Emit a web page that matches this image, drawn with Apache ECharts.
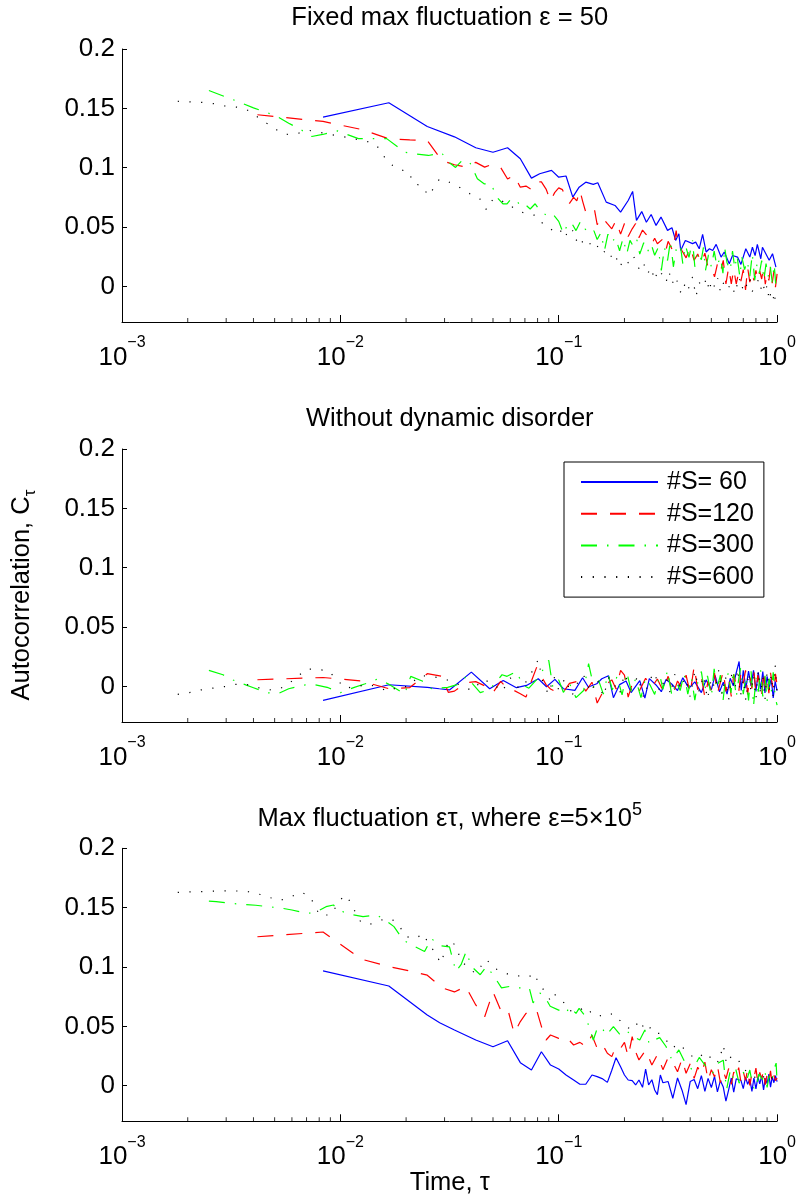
<!DOCTYPE html>
<html>
<head>
<meta charset="utf-8">
<script src="https://cdn.jsdelivr.net/npm/echarts@6/dist/echarts.min.js"></script>
<style>
html,body{margin:0;padding:0;background:#fff;}
#chart{width:799px;height:1201px;}
</style>
</head>
<body>
<div id="chart"></div>
<script>
// ---------- DATA ----------
const seriesNames = ['#S= 60', '#S=120', '#S=300', '#S=600'];
const panelTitles = ['Fixed max fluctuation \u03b5 = 50', 'Without dynamic disorder', '{a|Max fluctuation \u03b5\u03c4, where \u03b5=5\u00d710}{s|5}'];
const xAxisTitle = 'Time, \u03c4';
const yAxisTitle = '{a|Autocorrelation, C}{s|\u03c4}';
const minorTickValues = [0.002,0.003,0.004,0.005,0.006,0.007,0.008,0.009,0.02,0.03,0.04,0.05,0.06,0.07,0.08,0.09,0.2,0.3,0.4,0.5,0.6,0.7,0.8,0.9];

// Panel 1: Fixed max fluctuation
const p1_S60 = [[0.00833,0.1426],[0.01667,0.1547],[0.025,0.1347],[0.0333,0.126],[0.0417,0.1168],[0.05,0.113],[0.0583,0.1168],[0.0667,0.1075],[0.075,0.0912],[0.0818,0.0949],[0.0927,0.0977],[0.1,0.092],[0.108,0.093],[0.116,0.0752],[0.124,0.0836],[0.133,0.0878],[0.144,0.0859],[0.151,0.0873],[0.165,0.071],[0.181,0.0682],[0.192,0.0626],[0.208,0.0724],[0.218,0.08],[0.227,0.0556],[0.24,0.063],[0.252,0.054],[0.265,0.0606],[0.279,0.0514],[0.294,0.0584],[0.315,0.0472],[0.33,0.0494],[0.343,0.0387],[0.355,0.0443],[0.362,0.0303],[0.38,0.0387],[0.41,0.036],[0.424,0.0373],[0.44,0.0317],[0.456,0.0438],[0.473,0.029],[0.49,0.0317],[0.507,0.0303],[0.526,0.0354],[0.554,0.0247],[0.573,0.029],[0.604,0.019],[0.625,0.026],[0.659,0.0247],[0.683,0.0185],[0.719,0.0317],[0.75,0.0247],[0.771,0.033],[0.793,0.026],[0.812,0.0354],[0.842,0.0233],[0.857,0.033],[0.888,0.0275],[0.92,0.022],[0.953,0.0275],[0.988,0.0163]];
const p1_S120 = [[0.00417,0.1446],[0.00833,0.139],[0.0125,0.1322],[0.0167,0.1243],[0.0208,0.1235],[0.025,0.1229],[0.0292,0.106],[0.0333,0.1025],[0.0375,0.1005],[0.0417,0.1045],[0.0458,0.1005],[0.05,0.103],[0.0542,0.1002],[0.0583,0.0905],[0.0625,0.0935],[0.0667,0.0836],[0.0708,0.0845],[0.075,0.0815],[0.0792,0.088],[0.0833,0.088],[0.0875,0.082],[0.0917,0.072],[0.0958,0.079],[0.1,0.083],[0.104,0.0815],[0.108,0.074],[0.112,0.07],[0.117,0.075],[0.121,0.072],[0.125,0.081],[0.129,0.071],[0.133,0.0626],[0.138,0.06],[0.142,0.0626],[0.146,0.064],[0.15,0.052],[0.158,0.0584],[0.167,0.0528],[0.175,0.0485],[0.183,0.0555],[0.192,0.044],[0.2,0.053],[0.208,0.042],[0.217,0.0485],[0.225,0.053],[0.233,0.041],[0.242,0.0475],[0.25,0.0443],[0.258,0.041],[0.267,0.036],[0.275,0.0405],[0.283,0.0359],[0.3,0.04],[0.31,0.031],[0.317,0.038],[0.333,0.03],[0.345,0.047],[0.35,0.0382],[0.367,0.03],[0.383,0.024],[0.4,0.033],[0.417,0.022],[0.433,0.0272],[0.45,0.02],[0.467,0.028],[0.483,0.016],[0.5,0.0165],[0.517,0.008],[0.533,0.019],[0.55,0.012],[0.567,0.022],[0.583,0.002],[0.6,0.016],[0.617,0.0022],[0.633,0.0145],[0.65,0.002],[0.667,0.012],[0.683,0.0045],[0.7,0.0142],[0.717,-0.003],[0.733,0.016],[0.75,0.0035],[0.767,0.0118],[0.783,0.005],[0.8,0.0135],[0.817,0.0052],[0.833,0.0128],[0.85,0.0062],[0.867,0.0165],[0.883,0.0018],[0.9,0.0112],[0.917,0.005],[0.933,0.016],[0.95,0.0028],[0.967,0.013],[0.983,-0.0006],[1.0,0.0105]];
const p1_S300 = [[0.0025,0.165],[0.0033,0.1566],[0.004,0.1504],[0.0047,0.1459],[0.0052,0.1426],[0.0058,0.1375],[0.0066,0.132],[0.0074,0.1263],[0.0083,0.128],[0.0097,0.131],[0.0121,0.1245],[0.0142,0.1245],[0.0163,0.1245],[0.0197,0.1131],[0.0219,0.1117],[0.0253,0.1103],[0.0291,0.1125],[0.0312,0.105],[0.0337,0.1002],[0.036,0.1058],[0.039,0.1052],[0.0424,0.0907],[0.0455,0.0864],[0.049,0.0864],[0.052,0.0753],[0.0555,0.0696],[0.058,0.0696],[0.0605,0.0738],[0.064,0.0724],[0.0675,0.0668],[0.071,0.0682],[0.074,0.0652],[0.078,0.0696],[0.082,0.064],[0.086,0.0612],[0.09,0.058],[0.095,0.0598],[0.1,0.0548],[0.105,0.0445],[0.11,0.0525],[0.114,0.054],[0.12,0.047],[0.126,0.055],[0.132,0.0485],[0.138,0.0445],[0.145,0.0468],[0.15,0.0395],[0.156,0.0452],[0.162,0.0302],[0.168,0.044],[0.175,0.0372],[0.182,0.0412],[0.19,0.03],[0.197,0.0405],[0.205,0.0275],[0.212,0.0388],[0.22,0.0335],[0.228,0.0392],[0.235,0.0272],[0.245,0.0368],[0.255,0.029],[0.265,0.0358],[0.275,0.0262],[0.285,0.0325],[0.295,0.0135],[0.305,0.0328],[0.315,0.0218],[0.325,0.0385],[0.335,0.0165],[0.345,0.031],[0.36,0.0355],[0.37,0.0192],[0.38,0.0345],[0.395,0.0245],[0.41,0.0388],[0.42,0.0165],[0.435,0.0292],[0.45,0.0225],[0.46,0.0328],[0.47,0.0135],[0.485,0.0265],[0.5,0.0165],[0.515,0.0298],[0.53,0.0172],[0.55,0.0245],[0.565,0.0112],[0.575,0.0328],[0.59,0.0198],[0.61,0.0135],[0.625,0.0298],[0.64,0.0152],[0.655,0.0262],[0.675,0.0082],[0.69,0.0245],[0.71,0.0142],[0.73,0.0215],[0.75,0.0085],[0.77,0.0275],[0.79,0.0052],[0.81,0.0195],[0.83,0.0112],[0.85,0.0218],[0.87,0.0055],[0.89,0.0192],[0.91,0.0082],[0.93,0.0172],[0.95,0.0035],[0.97,0.0185],[0.985,0.0025],[1.0,0.0115]];
const p1_S600 = [[0.0018,0.156],[0.00205,0.1555],[0.00232,0.155],[0.00262,0.154],[0.00296,0.152],[0.00335,0.151],[0.00372,0.149],[0.00414,0.1432],[0.0046,0.1375],[0.0051,0.132],[0.00563,0.128],[0.00641,0.129],[0.0072,0.1314],[0.0081,0.1297],[0.00922,0.1277],[0.0104,0.126],[0.0118,0.124],[0.0132,0.1223],[0.0147,0.1186],[0.0157,0.1102],[0.0171,0.1027],[0.0184,0.099],[0.0207,0.096],[0.0215,0.0869],[0.0237,0.0847],[0.0253,0.0763],[0.0266,0.082],[0.0284,0.0904],[0.0301,0.0893],[0.0334,0.0859],[0.0366,0.0814],[0.0392,0.078],[0.0435,0.0738],[0.0467,0.0645],[0.05,0.0735],[0.0547,0.0724],[0.06,0.0668],[0.0621,0.0668],[0.068,0.0625],[0.0735,0.0605],[0.0789,0.0598],[0.0846,0.0528],[0.0937,0.0472],[0.1,0.0443],[0.105,0.0495],[0.11,0.0412],[0.116,0.0471],[0.12,0.0385],[0.124,0.0425],[0.13,0.0355],[0.137,0.0382],[0.143,0.0318],[0.15,0.0342],[0.157,0.0275],[0.165,0.0303],[0.172,0.0245],[0.18,0.0285],[0.19,0.0163],[0.2,0.0232],[0.21,0.0191],[0.22,0.0255],[0.235,0.0135],[0.245,0.0192],[0.255,0.0105],[0.265,0.0158],[0.275,0.0051],[0.285,0.0142],[0.3,0.0093],[0.31,0.0035],[0.32,0.0125],[0.33,0.0022],[0.345,0.0085],[0.355,-0.0035],[0.37,-0.0062],[0.38,0.0045],[0.395,-0.0015],[0.41,0.0079],[0.425,-0.0085],[0.44,0.0032],[0.46,-0.0006],[0.475,0.0072],[0.49,-0.0042],[0.5,0.0051],[0.52,-0.0012],[0.535,0.0068],[0.55,-0.0048],[0.57,0.0035],[0.59,-0.0022],[0.62,0.0022],[0.64,-0.0065],[0.67,0.0079],[0.69,-0.0025],[0.71,0.0045],[0.73,-0.0006],[0.75,0.0062],[0.77,-0.0042],[0.8,0.0025],[0.82,0.0051],[0.84,-0.0028],[0.86,0.0035],[0.88,-0.0055],[0.9,0.0012],[0.92,-0.0118],[0.94,-0.0035],[0.96,-0.0082],[0.97,-0.0146],[0.985,-0.0062],[1.0,-0.0105]];

// Panel 2: Without dynamic disorder
const p2_S60 = [[0.00833,-0.0118],[0.0167,0.0014],[0.025,-0.0008],[0.0284,-0.002],[0.0316,-0.003],[0.0398,0.012],[0.0483,-0.002],[0.0557,0.005],[0.064,-0.0011],[0.0712,0.0008],[0.0806,0.0064],[0.0879,-0.0003],[0.0961,0.0059],[0.105,-0.002],[0.1186,-0.0034],[0.1286,0.0073],[0.1366,-0.0005],[0.1493,0.0022],[0.1575,0.0064],[0.169,0.009],[0.178,-0.0095],[0.19,0.0015],[0.2034,0.0045],[0.2145,-0.0052],[0.235,0.0048],[0.248,-0.0098],[0.26,0.0065],[0.279,0.0012],[0.295,-0.0045],[0.31,0.0058],[0.33,0.0018],[0.35,-0.0035],[0.37,0.0072],[0.395,-0.0015],[0.42,0.0038],[0.45,-0.0052],[0.473,0.0055],[0.5,-0.0028],[0.52,0.0092],[0.545,-0.0045],[0.567,0.0035],[0.59,-0.0065],[0.61,0.0068],[0.63,0.0005],[0.65,0.0115],[0.67,0.021],[0.685,-0.0035],[0.7,0.0135],[0.72,-0.0015],[0.74,0.0128],[0.76,0.0005],[0.78,0.0135],[0.8,-0.0042],[0.82,0.0118],[0.84,-0.0025],[0.86,0.0125],[0.88,-0.0055],[0.9,0.0085],[0.92,-0.0012],[0.94,0.0065],[0.96,-0.0098],[0.98,0.0042],[1.0,-0.0035]];
const p2_S120 = [[0.00417,0.0056],[0.00833,0.0075],[0.0125,0.0045],[0.0167,-0.002],[0.0208,-0.001],[0.025,0.0107],[0.0292,0.0085],[0.0312,-0.005],[0.0333,-0.004],[0.0375,0.003],[0.0417,0.004],[0.0458,0.0005],[0.05,-0.0053],[0.0542,0.0042],[0.0583,-0.002],[0.0625,-0.0035],[0.0667,-0.0062],[0.0708,-0.009],[0.075,0.0045],[0.0792,0.016],[0.0833,0.0085],[0.0875,0.0015],[0.0917,-0.0022],[0.0958,-0.004],[0.1,-0.0055],[0.104,-0.006],[0.112,0.0025],[0.125,0.0048],[0.133,-0.004],[0.142,0.0035],[0.15,-0.014],[0.158,-0.006],[0.167,0.0025],[0.175,0.0055],[0.183,-0.0022],[0.192,0.0135],[0.2,0.0095],[0.208,-0.009],[0.217,0.002],[0.233,-0.0045],[0.25,0.0068],[0.267,-0.0005],[0.283,0.0062],[0.3,-0.0035],[0.317,0.0085],[0.333,-0.0072],[0.35,0.0045],[0.367,-0.0015],[0.383,0.0095],[0.4,-0.0058],[0.417,0.0169],[0.433,-0.0028],[0.45,0.0078],[0.467,-0.0092],[0.483,0.0045],[0.5,-0.0035],[0.517,0.0112],[0.533,-0.0062],[0.55,0.0035],[0.567,0.0128],[0.583,-0.0042],[0.6,0.0072],[0.617,-0.0085],[0.633,0.0102],[0.65,0.0012],[0.667,-0.0052],[0.683,0.0118],[0.7,0.0025],[0.717,0.0135],[0.733,-0.0068],[0.75,0.0085],[0.767,-0.0018],[0.783,0.0125],[0.8,-0.0045],[0.817,0.0095],[0.833,0.0015],[0.85,-0.0075],[0.867,0.0132],[0.883,-0.0012],[0.9,0.0078],[0.917,-0.0058],[0.933,0.0115],[0.95,0.0022],[0.967,-0.0038],[0.983,0.0105],[1.0,0.0012]];
const p2_S300 = [[0.0025,0.0135],[0.0029,0.0098],[0.0032,0.0056],[0.0036,0.002],[0.004,-0.0011],[0.0046,-0.0053],[0.0052,-0.006],[0.0058,-0.002],[0.0068,0.0011],[0.0075,0.0017],[0.0088,-0.0011],[0.01,-0.0053],[0.0115,-0.001],[0.013,0.0022],[0.0148,0.0062],[0.0166,0.002],[0.018,-0.002],[0.0197,-0.0064],[0.021,0.0084],[0.0237,0.0045],[0.0262,-0.002],[0.031,-0.0008],[0.035,0.002],[0.0377,0.0084],[0.0437,-0.0053],[0.0483,-0.0025],[0.055,0.0098],[0.058,0.0085],[0.064,0.0126],[0.0685,0.001],[0.073,-0.0015],[0.08,0.0065],[0.09,0.0219],[0.094,-0.001],[0.1,0.0055],[0.105,-0.005],[0.112,0.0025],[0.12,-0.0095],[0.13,-0.0035],[0.137,0.0191],[0.145,-0.0012],[0.152,0.0055],[0.16,-0.0065],[0.168,0.0105],[0.176,-0.0028],[0.185,0.0085],[0.195,-0.0072],[0.205,0.0118],[0.215,-0.0042],[0.225,0.0065],[0.238,-0.0095],[0.25,0.0072],[0.262,0.0012],[0.275,-0.0068],[0.29,0.0098],[0.3,-0.0025],[0.315,0.0135],[0.33,-0.0082],[0.345,0.0042],[0.36,-0.0035],[0.375,0.0108],[0.39,-0.0065],[0.405,0.0075],[0.42,-0.0115],[0.435,0.0052],[0.45,0.0125],[0.465,-0.0048],[0.48,0.0088],[0.5,-0.0085],[0.515,0.0148],[0.53,-0.0022],[0.55,0.0095],[0.565,-0.0128],[0.58,0.0062],[0.6,0.0115],[0.615,-0.0055],[0.63,0.0135],[0.65,-0.0092],[0.665,0.0045],[0.68,0.0155],[0.7,-0.0065],[0.72,0.0082],[0.74,-0.0118],[0.76,0.0128],[0.78,-0.0168],[0.8,0.0072],[0.82,-0.0045],[0.84,0.0142],[0.86,-0.0085],[0.88,0.0098],[0.9,-0.0125],[0.92,0.0065],[0.94,-0.0052],[0.96,0.0118],[0.98,-0.0095],[1.0,-0.0157]];
const p2_S600 = [[0.0018,-0.0067],[0.0021,-0.0048],[0.0023,-0.003],[0.0026,-0.0015],[0.003,0],[0.0033,0.0017],[0.0037,0.0017],[0.0041,-0.0005],[0.0046,-0.003],[0.0052,-0.0025],[0.0057,0.0011],[0.007,0.0146],[0.0076,0.0146],[0.0088,0.0132],[0.0096,0.0062],[0.0105,-0.0015],[0.012,0.0],[0.0134,0.0017],[0.0148,-0.0005],[0.0166,-0.0042],[0.0183,-0.0005],[0.0207,0.0],[0.0227,0.0084],[0.0253,0.009],[0.0301,0.0062],[0.035,0.0015],[0.04,-0.0035],[0.045,0.0058],[0.05,0.0025],[0.055,-0.0045],[0.06,0.0072],[0.066,-0.002],[0.072,0.0052],[0.0806,0.0225],[0.085,0.0012],[0.09,-0.0065],[0.095,0.0085],[0.1,-0.003],[0.107,0.0068],[0.115,-0.0078],[0.123,0.0045],[0.13,0.0095],[0.14,-0.0052],[0.15,0.0062],[0.16,-0.0085],[0.17,0.0078],[0.18,0.0015],[0.19,-0.0065],[0.2,0.0105],[0.215,-0.0025],[0.23,0.0085],[0.245,-0.0095],[0.26,0.0052],[0.275,0.0118],[0.29,-0.0045],[0.31,0.0085],[0.325,-0.0068],[0.34,0.0102],[0.36,-0.0018],[0.38,0.0075],[0.4,-0.0088],[0.42,0.0128],[0.44,-0.0045],[0.46,0.0092],[0.48,-0.0108],[0.5,0.0068],[0.52,-0.0025],[0.54,0.0135],[0.56,-0.0072],[0.58,0.0088],[0.6,-0.0115],[0.62,0.0105],[0.64,-0.0035],[0.66,0.0148],[0.68,-0.0082],[0.7,0.0062],[0.72,-0.0122],[0.74,0.0118],[0.76,-0.0048],[0.78,0.0095],[0.8,-0.0105],[0.82,0.0135],[0.84,-0.0068],[0.86,0.0082],[0.88,-0.0115],[0.9,0.0125],[0.92,-0.0032],[0.94,0.0098],[0.96,-0.0088],[0.98,0.0182],[1.0,-0.0055]];

// Panel 3: Max fluctuation proportional to tau
const p3_S60 = [[0.00833,0.0968],[0.01667,0.084],[0.025,0.0595],[0.0285,0.053],[0.0333,0.0469],[0.0417,0.0385],[0.05,0.0328],[0.0583,0.0379],[0.0667,0.0194],[0.075,0.0132],[0.0833,0.0286],[0.0917,0.0174],[0.1,0.014],[0.108,0.009],[0.117,0.0048],[0.125,0.0012],[0.133,0.0012],[0.142,0.009],[0.15,0.0076],[0.158,0.006],[0.167,0.0028],[0.175,0.013],[0.183,0.0236],[0.192,0.0159],[0.2,0.009],[0.208,0.0048],[0.217,0.0042],[0.225,0.0006],[0.233,0.0048],[0.242,-0.0014],[0.25,0.014],[0.258,0.0006],[0.267,0.005],[0.275,-0.0036],[0.283,-0.0075],[0.292,0.009],[0.3,0.0025],[0.317,0.0035],[0.333,-0.0106],[0.35,0.0065],[0.367,-0.0038],[0.383,-0.016],[0.4,0.0035],[0.417,0.0052],[0.433,-0.0025],[0.45,0.0085],[0.467,-0.0048],[0.483,0.0062],[0.5,-0.0015],[0.517,0.0078],[0.533,-0.0052],[0.55,0.0042],[0.567,-0.0012],[0.583,-0.013],[0.6,-0.0035],[0.617,0.0065],[0.633,-0.0055],[0.65,0.0058],[0.667,0.005],[0.683,0.0045],[0.7,-0.0025],[0.717,0.0072],[0.733,0.0012],[0.75,0.0055],[0.767,-0.0048],[0.783,0.0065],[0.8,-0.0028],[0.817,0.0075],[0.833,0.0015],[0.85,0.0082],[0.867,-0.0035],[0.883,0.0062],[0.9,0.0018],[0.917,0.0098],[0.933,-0.0012],[0.95,0.0075],[0.967,0.0025],[0.983,0.0085],[1.0,0.0035]];
const p3_S120 = [[0.00417,0.1255],[0.00833,0.1295],[0.0125,0.1066],[0.0167,0.1003],[0.0208,0.0967],[0.025,0.0931],[0.0292,0.0825],[0.0333,0.079],[0.0375,0.0835],[0.0417,0.068],[0.0458,0.0581],[0.05,0.079],[0.0542,0.0637],[0.0583,0.0651],[0.0625,0.0441],[0.0667,0.054],[0.0708,0.0609],[0.075,0.0609],[0.0792,0.0637],[0.0833,0.05],[0.0875,0.0385],[0.0917,0.0427],[0.1,0.0399],[0.108,0.0412],[0.117,0.0343],[0.125,0.0365],[0.133,0.0329],[0.142,0.0425],[0.15,0.0315],[0.158,0.0352],[0.167,0.0273],[0.175,0.0245],[0.183,0.0335],[0.192,0.0315],[0.2,0.0365],[0.208,0.0245],[0.217,0.0413],[0.225,0.0285],[0.233,0.0217],[0.25,0.0298],[0.267,0.0175],[0.283,0.0262],[0.3,0.0135],[0.317,0.0238],[0.333,0.0195],[0.35,0.0118],[0.367,0.0225],[0.383,0.0105],[0.4,0.0185],[0.417,0.0062],[0.433,0.0155],[0.45,0.0098],[0.467,0.0198],[0.483,0.0042],[0.5,0.0135],[0.517,0.0075],[0.533,0.0168],[0.55,0.0025],[0.567,0.0122],[0.583,0.0058],[0.6,0.0145],[0.617,0.0012],[0.633,0.0115],[0.65,0.0065],[0.667,0.0152],[0.683,0.0028],[0.7,0.0118],[0.717,0.0045],[0.733,0.0138],[0.75,0.0002],[0.767,0.0105],[0.783,0.0062],[0.8,0.0148],[0.817,0.0018],[0.833,0.0112],[0.85,0.0055],[0.867,0.0135],[0.883,0.0008],[0.9,0.0098],[0.917,0.0035],[0.933,0.0125],[0.95,0.0015],[0.967,0.0088],[0.983,0.0042],[1.0,0.0065]];
const p3_S300 = [[0.0025,0.1555],[0.0027,0.155],[0.0032,0.1535],[0.0036,0.1528],[0.0041,0.152],[0.0047,0.1508],[0.0054,0.1495],[0.006,0.148],[0.0071,0.1452],[0.0077,0.146],[0.0086,0.1508],[0.0093,0.1522],[0.0098,0.148],[0.011,0.1445],[0.0127,0.1424],[0.0147,0.1438],[0.016,0.1396],[0.0176,0.134],[0.0194,0.1227],[0.0215,0.118],[0.0243,0.113],[0.0261,0.124],[0.0285,0.118],[0.0316,0.117],[0.0338,0.0963],[0.0357,0.1019],[0.0377,0.1131],[0.0398,0.1005],[0.0437,0.0935],[0.0467,0.1005],[0.05,0.0935],[0.0547,0.0824],[0.06,0.0837],[0.064,0.0824],[0.0733,0.0823],[0.0763,0.0697],[0.082,0.0781],[0.0866,0.0745],[0.0914,0.0669],[0.1,0.0637],[0.108,0.0609],[0.112,0.0665],[0.12,0.0609],[0.124,0.0651],[0.133,0.0581],[0.144,0.0385],[0.151,0.0497],[0.16,0.0469],[0.165,0.0425],[0.178,0.0498],[0.19,0.0435],[0.203,0.0469],[0.218,0.0415],[0.235,0.0385],[0.248,0.0469],[0.26,0.0352],[0.271,0.0382],[0.29,0.0405],[0.31,0.033],[0.33,0.0217],[0.355,0.0301],[0.38,0.0189],[0.41,0.0133],[0.44,0.0238],[0.473,0.0161],[0.507,0.0105],[0.53,0.0185],[0.567,0.0215],[0.587,-0.0034],[0.61,0.0125],[0.625,0.0062],[0.645,0.0148],[0.67,0.0021],[0.7,0.0115],[0.725,0.0045],[0.75,0.0132],[0.775,-0.0012],[0.8,-0.0034],[0.825,0.0098],[0.857,0.0052],[0.88,0.0125],[0.9,-0.0015],[0.92,0.0085],[0.945,0.0032],[0.97,0.0145],[0.99,0.019],[1.0,0.0025]];
const p3_S600 = [[0.0018,0.1628],[0.0021,0.1634],[0.0024,0.1636],[0.0027,0.164],[0.003,0.1642],[0.0034,0.164],[0.0038,0.1634],[0.0043,0.1611],[0.0048,0.1583],[0.0053,0.1561],[0.0059,0.1589],[0.0066,0.163],[0.0072,0.16],[0.0077,0.151],[0.008,0.1438],[0.009,0.1438],[0.0104,0.1606],[0.011,0.156],[0.0116,0.1477],[0.0124,0.138],[0.0136,0.1358],[0.0154,0.1396],[0.0172,0.1405],[0.0188,0.1335],[0.0198,0.1259],[0.0219,0.1238],[0.024,0.128],[0.0253,0.1197],[0.0272,0.1121],[0.0288,0.1031],[0.031,0.1197],[0.0316,0.1226],[0.0338,0.118],[0.0357,0.105],[0.0415,0.0946],[0.0467,0.1065],[0.05,0.0995],[0.06,0.0931],[0.0733,0.0917],[0.0763,0.095],[0.082,0.0855],[0.0914,0.0721],[0.094,0.078],[0.104,0.0721],[0.11,0.0637],[0.12,0.062],[0.133,0.0665],[0.144,0.0595],[0.15,0.06],[0.16,0.058],[0.178,0.0609],[0.19,0.0553],[0.203,0.0497],[0.218,0.0469],[0.235,0.0553],[0.248,0.0469],[0.26,0.0498],[0.271,0.0441],[0.29,0.0441],[0.31,0.0385],[0.33,0.0315],[0.355,0.0355],[0.38,0.03],[0.41,0.0245],[0.44,0.0275],[0.473,0.0215],[0.507,0.0259],[0.54,0.0195],[0.567,0.0343],[0.587,0.0182],[0.62,0.0255],[0.67,0.0205],[0.7,0.0135],[0.75,0.0115],[0.8,0.0062],[0.85,0.0095],[0.9,0.0035],[0.95,0.0068],[1.0,0.0035]];

const panels = [
  [p1_S60, p1_S120, p1_S300, p1_S600],
  [p2_S60, p2_S120, p2_S300, p2_S600],
  [p3_S60, p3_S120, p3_S300, p3_S600]
];

// ---------- STYLE / LAYOUT ----------
const F = '"Liberation Sans", Arial, Helvetica, sans-serif';
const colors = ['#0000ff', '#ff0000', '#00ff00', '#000000'];
const dashes = ['solid', [16, 13], [16, 10, 1.5, 10], [1.2, 10.5]];
const gridTops = [49, 449, 848.3];
const plotLeft = 122, plotWidth = 655.5, plotHeight = 273;
const yMin = -0.03, yMax = 0.2;
const titleY = [17.5, 419, 816.5];

const grids = [], xAxes = [], yAxes = [], series = [];
gridTops.forEach((top, i) => {
  grids.push({ left: plotLeft, top: top, width: plotWidth, height: plotHeight, containLabel: false });
  xAxes.push({
    type: 'log', logBase: 10, gridIndex: i, min: 0.001, max: 1, splitNumber: 3,
    axisLine: { show: true, onZero: false, lineStyle: { color: '#000', width: 1 } },
    axisTick: { show: true, inside: true, length: 7, lineStyle: { color: '#000', width: 1 } },
    splitLine: { show: false },
    axisLabel: {
      margin: 13, color: '#000',
      formatter: function (v) {
        const e = Math.round(Math.log10(v));
        return '{b|10}{s|' + (e < 0 ? '\u2212' + (-e) : e) + '}';
      },
      rich: {
        b: { fontSize: 26, fontFamily: F, color: '#000', lineHeight: 36, verticalAlign: 'bottom' },
        s: { fontSize: 16, fontFamily: F, color: '#000', lineHeight: 12, verticalAlign: 'top' }
      }
    }
  });
  yAxes.push({
    type: 'value', gridIndex: i, min: yMin, max: yMax, splitNumber: 5,
    axisLine: { show: true, onZero: false, lineStyle: { color: '#000', width: 1 } },
    axisTick: { show: true, inside: true, length: 5, lineStyle: { color: '#000', width: 1 } },
    splitLine: { show: false },
    axisLabel: {
      margin: 7, fontSize: 26, fontFamily: F, color: '#000',
      formatter: function (v) { return v < -0.001 ? '' : String(+v.toFixed(3)); }
    }
  });
  panels[i].forEach((data, s) => {
    series.push({
      name: seriesNames[s], type: 'line', xAxisIndex: i, yAxisIndex: i,
      data: data, symbol: 'none', showSymbol: false, smooth: false,
      lineStyle: { color: colors[s], width: 1.2, type: dashes[s] },
      itemStyle: { color: colors[s] },
      emphasis: { disabled: true }, silent: true, z: 2 + s
    });
  });
  series.push({
    type: 'scatter', xAxisIndex: i, yAxisIndex: i, silent: true, clip: false,
    data: minorTickValues.map(v => [v, yMin]),
    symbol: 'rect', symbolSize: [1, 4], symbolOffset: [0, -2],
    itemStyle: { color: '#000' }, z: 10
  });
});

const graphics = [];
panelTitles.forEach((t, i) => {
  graphics.push({
    type: 'text', x: plotLeft + plotWidth / 2, y: titleY[i], silent: true,
    style: {
      text: t, align: 'center', verticalAlign: 'middle', fill: '#000',
      fontSize: 25.5, fontFamily: F,
      rich: {
        a: { fontSize: 25.5, fontFamily: F, fill: '#000', lineHeight: 30, verticalAlign: 'bottom' },
        s: { fontSize: 18, fontFamily: F, fill: '#000', lineHeight: 14, verticalAlign: 'top' }
      }
    }
  });
});
graphics.push({
  type: 'text', x: plotLeft + plotWidth / 2, y: 1182.5, silent: true,
  style: { text: xAxisTitle, align: 'center', verticalAlign: 'middle', fill: '#000', fontSize: 25.5, fontFamily: F }
});
graphics.push({
  type: 'text', x: 24, y: 595, rotation: Math.PI / 2, silent: true,
  style: {
    text: yAxisTitle, align: 'center', verticalAlign: 'middle', fill: '#000', fontSize: 25.5, fontFamily: F,
    rich: {
      a: { fontSize: 25.5, fontFamily: F, fill: '#000', lineHeight: 30, verticalAlign: 'top' },
      s: { fontSize: 17, fontFamily: F, fill: '#000', lineHeight: 14, verticalAlign: 'bottom' }
    }
  }
});

const chart = echarts.init(document.getElementById('chart'), null, { renderer: 'canvas', width: 799, height: 1201 });
chart.setOption({
  animation: false,
  backgroundColor: '#fff',
  textStyle: { fontFamily: F },
  grid: grids, xAxis: xAxes, yAxis: yAxes, series: series,
  legend: {
    data: seriesNames, orient: 'vertical', left: 564, top: 462,
    padding: [7.5, 10, 7.5, 16], itemGap: 6.7, itemWidth: 77, itemHeight: 14,
    backgroundColor: '#fff', borderColor: '#000', borderWidth: 1, borderRadius: 0,
    selectedMode: false, z: 20,
    itemStyle: { opacity: 0, color: 'rgba(0,0,0,0)', borderColor: 'rgba(0,0,0,0)', borderWidth: 0 },
    textStyle: { fontSize: 25, fontFamily: F, color: '#000', lineHeight: 25, padding: [0, 0, 0, 4] }
  },
  graphic: graphics
});
</script>
</body>
</html>
